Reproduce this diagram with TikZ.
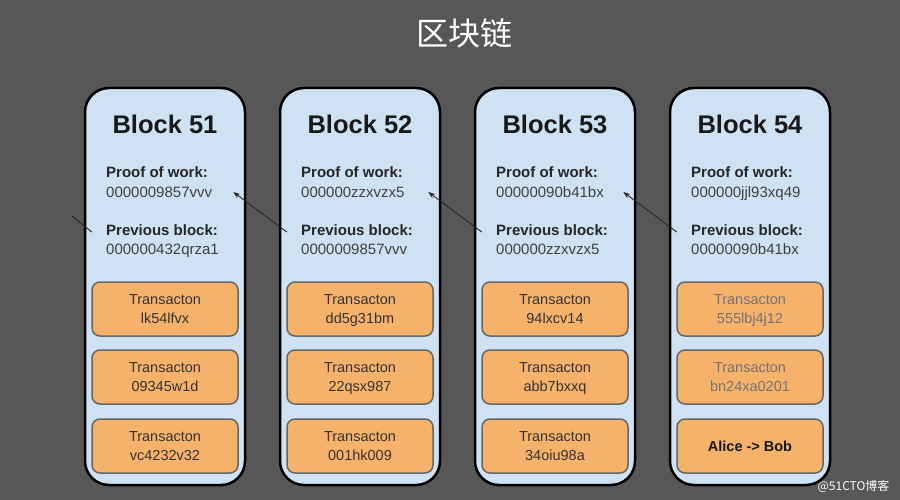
\documentclass[tikz,border=0pt]{standalone}
\usepackage{fontspec}
\setmainfont{Liberation Sans}
\newfontfamily\cjkfont{Noto Sans CJK SC}
\usepackage{xcolor}
\usetikzlibrary{calc,positioning,arrows.meta}
\definecolor{bggray}{HTML}{575757}
\definecolor{blockblue}{HTML}{CFE2F3}
\definecolor{txorange}{HTML}{F6B26B}
\definecolor{hashgray}{HTML}{404040}
\tikzset{
  block/.style={draw=black, line width=2.5pt, fill=blockblue, rounded corners=24pt, minimum width=160pt, minimum height=397pt, inner sep=0pt},
  blocktitle/.style={anchor=base, font=\fontsize{25.5}{30}\selectfont\bfseries, text=black!90},
  fieldname/.style={anchor=base west, inner sep=0pt, font=\fontsize{15}{18}\selectfont\bfseries, text=black!85},
  fieldvalue/.style={anchor=base west, inner sep=0pt, font=\fontsize{15}{18}\selectfont, text=hashgray},
  txbox/.style={draw=black!60, line width=1.5pt, fill=txorange, rounded corners=8pt, minimum width=146pt, minimum height=54pt, align=center, text depth=0pt, font=\fontsize{14.5}{19}\selectfont, text=black!80},
  chainlink/.style={-{Stealth[length=7pt,width=5pt]}, line width=0.9pt, black!85}
}

\begin{document}
\begin{tikzpicture}[x=1pt, y=-1pt]
  \fill[bggray] (0,0) rectangle (900,500);
  \useasboundingbox (0,0) rectangle (900,500);
  \node[text=white!94, font=\fontsize{32}{36}\selectfont\cjkfont] (title) at (464,33) {区块链};

  % block 51
  \node[block] (b51) at (165,286.5) {};
  \node[blocktitle] (t51) at (165,134) {Block 51};
  \node[fieldname] (pw51) at (106,178) {Proof of work:};
  \node[fieldvalue] (ph51) at (106,197) {0000009857vvv};
  \node[fieldname] (pl51) at (106,235) {Previous block:};
  \node[fieldvalue] (pv51) at (106,254) {000000432qrza1};
  \node[txbox] (tx51a) at (165,309) {Transacton\\lk54lfvx};
  \node[txbox] (tx51b) at (165,377) {Transacton\\09345w1d};
  \node[txbox] (tx51c) at (165,446) {Transacton\\vc4232v32};

  % block 52
  \node[block] (b52) at (360,286.5) {};
  \node[blocktitle] (t52) at (360,134) {Block 52};
  \node[fieldname] (pw52) at (301,178) {Proof of work:};
  \node[fieldvalue] (ph52) at (301,197) {000000zzxvzx5};
  \node[fieldname] (pl52) at (301,235) {Previous block:};
  \node[fieldvalue] (pv52) at (301,254) {0000009857vvv};
  \node[txbox] (tx52a) at (360,309) {Transacton\\dd5g31bm};
  \node[txbox] (tx52b) at (360,377) {Transacton\\22qsx987};
  \node[txbox] (tx52c) at (360,446) {Transacton\\001hk009};

  % block 53
  \node[block] (b53) at (555,286.5) {};
  \node[blocktitle] (t53) at (555,134) {Block 53};
  \node[fieldname] (pw53) at (496,178) {Proof of work:};
  \node[fieldvalue] (ph53) at (496,197) {00000090b41bx};
  \node[fieldname] (pl53) at (496,235) {Previous block:};
  \node[fieldvalue] (pv53) at (496,254) {000000zzxvzx5};
  \node[txbox] (tx53a) at (555,309) {Transacton\\94lxcv14};
  \node[txbox] (tx53b) at (555,377) {Transacton\\abb7bxxq};
  \node[txbox] (tx53c) at (555,446) {Transacton\\34oiu98a};

  % block 54
  \node[block] (b54) at (750,286.5) {};
  \node[blocktitle] (t54) at (750,134) {Block 54};
  \node[fieldname] (pw54) at (691,178) {Proof of work:};
  \node[fieldvalue] (ph54) at (691,197) {000000jjl93xq49};
  \node[fieldname] (pl54) at (691,235) {Previous block:};
  \node[fieldvalue] (pv54) at (691,254) {00000090b41bx};
  \node[txbox, text=black!55] (tx54a) at (750,309) {Transacton\\555lbj4j12};
  \node[txbox, text=black!55] (tx54b) at (750,377) {Transacton\\bn24xa0201};
  \node[txbox, font=\fontsize{14.5}{19}\selectfont\bfseries, text=black!90] (tx54c) at (750,446) {Alice -> Bob};

  % links back to the previous block
  \coordinate (b50) at (72,216);
  \draw[line width=0.9pt, black!85] ($(b51.west |- pl51.base)+(8,-3)$) -- (b50);
  \draw[chainlink] ($(b52.west |- pl52.base)+(8,-3)$) -- ($(b51.east |- ph51.base)+(-13,-5)$);
  \draw[chainlink] ($(b53.west |- pl53.base)+(8,-3)$) -- ($(b52.east |- ph52.base)+(-13,-5)$);
  \draw[chainlink] ($(b54.west |- pl54.base)+(8,-3)$) -- ($(b53.east |- ph53.base)+(-13,-5)$);

  \node[anchor=east, text=white!85, font=\fontsize{12}{14}\selectfont\cjkfont] (mark) at (893,486) {@51CTO博客};
\end{tikzpicture}
\end{document}
